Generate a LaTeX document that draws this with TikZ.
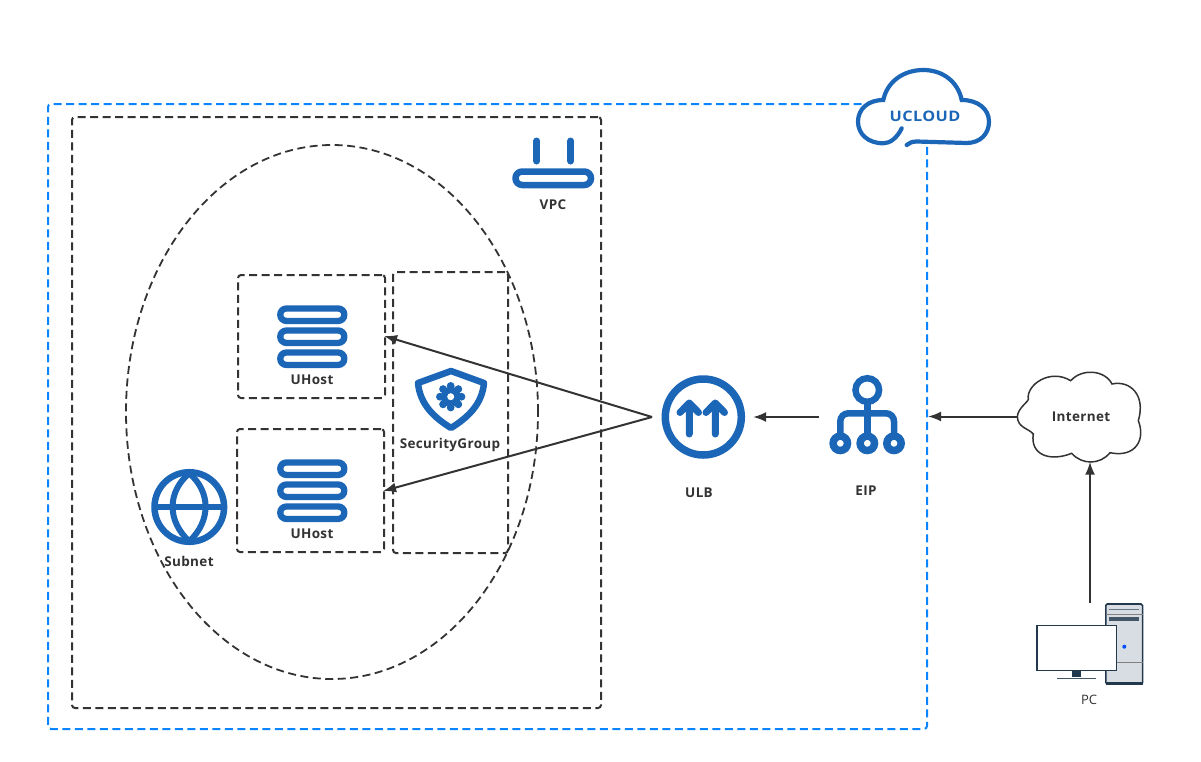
\documentclass[tikz,border=0pt]{standalone}
\usepackage{fontspec}
\setmainfont{Open Sans}
\usepackage{tikz}
\usetikzlibrary{positioning, arrows.meta, shapes.geometric}
\definecolor{iconblue}{HTML}{1C66B7}
\definecolor{edgeblue}{HTML}{0A84FF}
\definecolor{inkgrey}{HTML}{333333}
\definecolor{pcdark}{HTML}{22384D}
\definecolor{pcgrey}{HTML}{D8DDE3}
\newfontfamily\labelfont[LetterSpace=2.5,BoldFont={Open Sans Bold}]{Open Sans}
\tikzset{
    zone/.style={draw=inkgrey, dash pattern=on 8pt off 4.5pt, line width=2pt, rounded corners=3pt, rectangle},
    label/.style={text=inkgrey, font=\labelfont\bfseries\fontsize{13.5}{15}\selectfont, inner sep=0pt, yshift=-0.8pt},
    flow/.style={draw=inkgrey, line width=2pt, -{Latex[length=13pt,width=10pt]}},
    hosticon/.pic={
        \foreach \dy in {-22,0,22}
            \draw[iconblue, line width=6.3pt, rounded corners=6pt] (-32,\dy-6.2) rectangle (32,\dy+6.2);
    }
}

\begin{document}
\begin{tikzpicture}[x=1pt, y=-1pt]
    \useasboundingbox (0,0) rectangle (1201,761);

    % Zones
    \node (ucloud) at (487.5,416.5) [zone, draw=edgeblue, minimum width=879pt, minimum height=625pt] {};
    \node (vpc) at (336.5,412.5) [zone, minimum width=529pt, minimum height=591pt] {};
    \node (subnet) at (332,412) [draw=inkgrey, dash pattern=on 8pt off 4.5pt, line width=1.8pt, ellipse, minimum width=412pt, minimum height=534pt, inner sep=0pt] {};
    \node (hostA) at (311.5,336.5) [zone, minimum width=147pt, minimum height=123pt] {};
    \node (hostB) at (310.5,490.5) [zone, minimum width=147pt, minimum height=123pt] {};
    \node (secgroup) at (450.5,412.5) [zone, minimum width=115pt, minimum height=281pt] {};

    % UCloud logo
    \draw[iconblue, line width=4.2pt, fill=white, line cap=round] (901.7,128.3) .. controls (897,138) and (890,143.3) .. (883.3,143.3)
        .. controls (868,143.3) and (858,134) .. (858,121.7) .. controls (858,109) and (868,100) .. (883.3,100)
        .. controls (887,82) and (903,70) .. (923.3,70) .. controls (943,70) and (958,82) .. (961.7,100)
        .. controls (978,100) and (989,109) .. (989,121.7) .. controls (989,134) and (980,143) .. (966.7,143)
        -- (916.7,141.5) .. controls (912,141.5) and (909,143) .. (906.7,145);
    \node (ucloudtext) at (925,116) [font=\labelfont\bfseries\fontsize{14.5}{17}\selectfont, text=iconblue, inner sep=0pt, xscale=1.12] {UCLOUD};

    % VPC icon
    \draw[iconblue, line width=7pt, line cap=round] (536.7,141) -- (536.7,161) (570.7,141) -- (570.7,161);
    \draw[iconblue, line width=6.5pt, rounded corners=6.7pt] (515.5,171.5) rectangle (591,185);
    \node (vpclabel) at (553,204) [label] {VPC};

    % Hosts
    \pic at (312.3,336.7) {hosticon};
    \pic at (312.3,490.7) {hosticon};
    \node (hostAlabel) at (312,379) [label] {UHost};
    \node (hostBlabel) at (312,533) [label] {UHost};

    % Subnet icon
    \draw[iconblue, line width=6.5pt] (189.3,507) circle (34.8pt);
    \draw[iconblue, line width=6pt, line join=round] (189.3,473.3) .. controls (167,492) and (167,521) .. (189.3,541.3) .. controls (211,521) and (211,492) .. (189.3,473.3);
    \draw[iconblue, line width=6pt] (155,507) -- (224,507);
    \node (subnetlabel) at (189,561) [label] {Subnet};

    % Security group icon
    \draw[iconblue, line width=6.5pt, line join=round] (451,371) -- (484,383) .. controls (482,405) and (467,418) .. (451,428) .. controls (435,418) and (420,405) .. (418,383) -- cycle;
    \foreach \a in {0,45,...,315}
        \fill[iconblue] (450.7,396.7) ++(\a:10.8pt) circle (3.9pt);
    \fill[iconblue] (450.7,396.7) circle (10pt);
    \fill[white] (450.7,396.7) circle (3.5pt);
    \node (sglabel) at (450,444) [label] {SecurityGroup};

    % ULB
    \node (ulb) at (703.3,417) [draw=iconblue, line width=7.5pt, circle, minimum size=76pt, inner sep=0pt] {};
    \draw[iconblue, line width=7pt, line cap=round, line join=round] (689.3,434) -- (689.3,403) (680,412.5) -- (689.3,403) -- (698.5,412.5);
    \draw[iconblue, line width=7pt, line cap=round, line join=round] (715.3,434) -- (715.3,403) (706,412.5) -- (715.3,403) -- (724.5,412.5);
    \node (ulblabel) at (699,492) [label] {ULB};

    % EIP
    \node (eip) at (867,417) [minimum width=76pt, minimum height=80pt, inner sep=0pt] {};
    \draw[iconblue, line width=6.5pt] (867.3,390) circle (11.8pt);
    \draw[iconblue, line width=6.5pt] (867.3,402) -- (867.3,436);
    \draw[iconblue, line width=6.5pt, rounded corners=8pt] (840.3,436) -- (840.3,413.3) -- (894,413.3) -- (894,436);
    \foreach \cx in {840.3,867.3,894}
        \draw[iconblue, line width=7.5pt, fill=white] (\cx,443.3) circle (7.2pt);
    \node (eiplabel) at (866,490) [label] {EIP};

    % Internet
    \node (internet) at (1078,416.5) [minimum width=122pt, minimum height=90pt, inner sep=0pt] {};
    \draw[inkgrey, line width=1.5pt] (1017.3,416.7) .. controls (1018,408) and (1028,402) .. (1028.3,399.3)
        .. controls (1026,385) and (1050,368) .. (1070.7,380.7) .. controls (1082,368) and (1105,370) .. (1112,384)
        .. controls (1130,380) and (1146,395) .. (1138.3,420.7) .. controls (1146,440) and (1135,458) .. (1110,452.7)
        .. controls (1100,465) and (1082,465) .. (1071.7,453.3) .. controls (1050,462) and (1030,455) .. (1033.3,434)
        .. controls (1028,428) and (1018,428) .. (1017.3,416.7);
    \node (internetlabel) at (1081,416) [label] {Internet};

    % PC
    \node (pc) at (1090,644) [minimum width=106pt, minimum height=82pt, inner sep=0pt] {};
    \draw[pcdark, line width=1.6pt, fill=pcgrey, rounded corners=1.5pt] (1105.8,604) rectangle (1142.6,684);
    \draw[pcdark, line width=3pt] (1105.8,683.5) -- (1142.6,683.5);
    \draw[pcdark!70, line width=1.4pt] (1109.3,609.3) -- (1139,609.3);
    \draw[gray, line width=1pt] (1105.8,614) -- (1142.6,614) (1105.8,662) -- (1142.6,662);
    \fill[pcdark!85] (1109.3,617.3) rectangle (1139,621.3);
    \fill[blue!70!cyan] (1124.3,646.7) circle (2pt);
    \draw[pcdark, line width=1.5pt, fill=white] (1037,625.5) rectangle (1116.5,670.5);
    \fill[pcdark] (1072.3,671) rectangle (1081,677.3);
    \draw[pcdark!85, line width=1.6pt] (1057.3,678.3) -- (1096,678.3);
    \node (pclabel) at (1089,700) [text=inkgrey, font=\fontsize{13}{15}\selectfont, inner sep=0pt] {PC};

    % Connectors
    \coordinate[left=9.5pt of ulb.west] (ulbport);
    \draw[flow, shorten >=-2pt] (ulbport) -- (hostA.east);
    \draw[flow, shorten >=-2pt] (ulbport) -- (hostB.east);
    \draw[flow, shorten <=10pt, shorten >=8pt] (eip.west) -- (ulb.east);
    \draw[flow] (internet.west) -- (internet.west -| ucloud.east);
    \draw[flow] (pc.north) -- (internet.south -| pc.north);
\end{tikzpicture}
\end{document}
